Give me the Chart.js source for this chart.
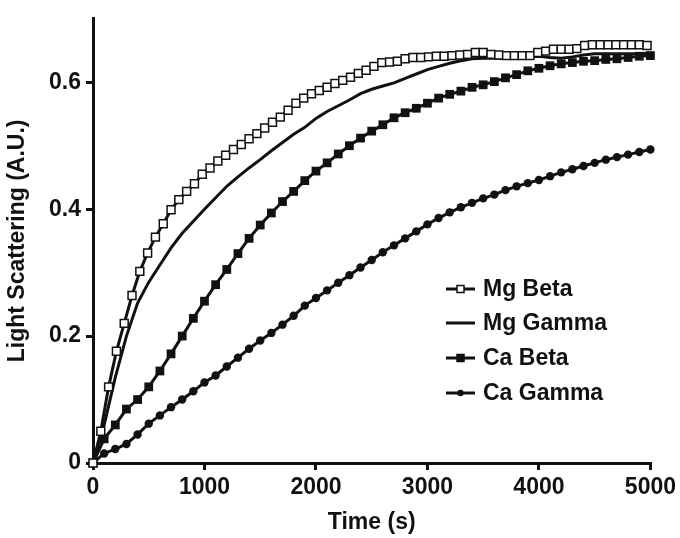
<!DOCTYPE html>
<html>
<head>
<meta charset="utf-8">
<script src="https://cdn.jsdelivr.net/npm/chart.js@4.4.1/dist/chart.umd.min.js"></script>
<style>
  body { margin: 0; background: #fff; }
  canvas { display: block; }
</style>
</head>
<body>
<canvas id="scatterChart" width="680" height="538"></canvas>
<script>
// Time points (s)
const timeMgBeta = [
  0, 70, 140, 210, 280, 350, 420, 490, 560, 630,
  700, 770, 840, 910, 980, 1050, 1120, 1190, 1260, 1330,
  1400, 1470, 1540, 1610, 1680, 1750, 1820, 1890, 1960, 2030,
  2100, 2170, 2240, 2310, 2380, 2450, 2520, 2590, 2660, 2730,
  2800, 2870, 2940, 3010, 3080, 3150, 3220, 3290, 3360, 3430,
  3500, 3570, 3640, 3710, 3780, 3850, 3920, 3990, 4060, 4130,
  4200, 4270, 4340, 4410, 4480, 4550, 4620, 4690, 4760, 4830,
  4900, 4970,
];
const timeOther = [
  0, 100, 200, 300, 400, 500, 600, 700, 800, 900,
  1000, 1100, 1200, 1300, 1400, 1500, 1600, 1700, 1800, 1900,
  2000, 2100, 2200, 2300, 2400, 2500, 2600, 2700, 2800, 2900,
  3000, 3100, 3200, 3300, 3400, 3500, 3600, 3700, 3800, 3900,
  4000, 4100, 4200, 4300, 4400, 4500, 4600, 4700, 4800, 4900,
  5000,
];

// Light scattering (A.U.)
const mgBeta = [
  0, 0.05, 0.12, 0.176, 0.22, 0.264, 0.302, 0.331, 0.356, 0.377,
  0.399, 0.415, 0.428, 0.44, 0.455, 0.465, 0.476, 0.485, 0.494, 0.502,
  0.511, 0.519, 0.528, 0.537, 0.545, 0.556, 0.567, 0.575, 0.582, 0.587,
  0.592, 0.598, 0.603, 0.608, 0.614, 0.619, 0.625, 0.631, 0.632, 0.633,
  0.637, 0.639, 0.639, 0.64, 0.641, 0.641, 0.642, 0.643, 0.644, 0.647,
  0.647, 0.644, 0.643, 0.642, 0.642, 0.642, 0.642, 0.647, 0.649, 0.652,
  0.652, 0.652, 0.653, 0.658, 0.659, 0.659, 0.659, 0.659, 0.659, 0.659,
  0.659, 0.658,
];
const mgGamma = [
  0, 0.06, 0.135, 0.2, 0.252, 0.285, 0.312, 0.339, 0.362, 0.381,
  0.4, 0.418, 0.436, 0.451, 0.465, 0.478, 0.492, 0.505, 0.518, 0.529,
  0.543, 0.554, 0.563, 0.572, 0.582, 0.589, 0.594, 0.599, 0.606, 0.613,
  0.62, 0.625, 0.63, 0.634, 0.637, 0.638, 0.638, 0.638, 0.639, 0.64,
  0.641, 0.639, 0.638, 0.64, 0.643, 0.645, 0.645, 0.645, 0.645, 0.645,
  0.646,
];
const caBeta = [
  0, 0.038, 0.06, 0.085, 0.1, 0.12, 0.145, 0.172, 0.2, 0.228,
  0.255, 0.281, 0.305, 0.33, 0.354, 0.375, 0.394, 0.412, 0.428, 0.445,
  0.46, 0.473, 0.487, 0.5, 0.512, 0.523, 0.533, 0.544, 0.552, 0.559,
  0.567, 0.575, 0.581, 0.586, 0.592, 0.596, 0.601, 0.607, 0.612, 0.618,
  0.622, 0.626, 0.629, 0.631, 0.633, 0.634, 0.636, 0.637, 0.639, 0.641,
  0.642,
];
const caGamma = [
  0, 0.015, 0.022, 0.03, 0.045, 0.062, 0.075, 0.088, 0.1, 0.113,
  0.127, 0.138, 0.152, 0.166, 0.18, 0.193, 0.205, 0.218, 0.232, 0.248,
  0.26, 0.272, 0.284, 0.296, 0.308, 0.32, 0.332, 0.343, 0.354, 0.365,
  0.376, 0.386, 0.395, 0.403, 0.41, 0.417, 0.423, 0.43, 0.436, 0.441,
  0.446, 0.452, 0.458, 0.463, 0.468, 0.473, 0.478, 0.482, 0.486, 0.49,
  0.494,
];

const seriesNames = ["Mg Beta", "Mg Gamma", "Ca Beta", "Ca Gamma"];
const yTicks = [0, 0.2, 0.4, 0.6];

const ink = "#111";
const fontFamily = "'Liberation Sans', Arial, sans-serif";

function toPoints(times, values) {
  return values.map((v, i) => ({ x: times[i], y: v }));
}

// Legend drawn inside the plot, lower right
const insideLegend = {
  id: "insideLegend",
  afterDraw(chart) {
    const ctx = chart.ctx;
    const x0 = 446, x1 = 475, textX = 483;
    const rowY = [289, 323, 358, 393];
    ctx.save();
    chart.data.datasets.forEach((ds, i) => {
      const y = rowY[i];
      const mx = (x0 + x1) / 2;
      ctx.strokeStyle = ink;
      ctx.lineWidth = 3;
      ctx.beginPath();
      ctx.moveTo(x0, y);
      ctx.lineTo(x1, y);
      ctx.stroke();
      if (ds.pointStyle === "rect" && ds.pointRadius > 0) {
        ctx.fillStyle = ds.pointBackgroundColor;
        ctx.lineWidth = 1.5;
        ctx.beginPath();
        ctx.rect(mx - 3.5, y - 3.5, 7, 7);
        ctx.fill();
        ctx.stroke();
      } else if (ds.pointStyle === "circle" && ds.pointRadius > 0) {
        ctx.fillStyle = ink;
        ctx.beginPath();
        ctx.arc(mx, y, 3.2, 0, Math.PI * 2);
        ctx.fill();
      }
      ctx.fillStyle = ink;
      ctx.font = "bold 23px " + fontFamily;
      ctx.textBaseline = "middle";
      ctx.textAlign = "left";
      ctx.fillText(ds.label, textX, y + 1);
    });
    ctx.restore();
  },
};

document.addEventListener("DOMContentLoaded", () => {
  const ctx = document.getElementById("scatterChart").getContext("2d");

  new Chart(ctx, {
    type: "line",
    data: {
      datasets: [
        {
          label: seriesNames[0],
          data: toPoints(timeMgBeta, mgBeta),
          borderColor: ink,
          borderWidth: 3,
          pointStyle: "rect",
          pointRadius: 5.6,
          pointBorderWidth: 1.5,
          pointBorderColor: ink,
          pointBackgroundColor: "#fff",
        },
        {
          label: seriesNames[1],
          data: toPoints(timeOther, mgGamma),
          borderColor: ink,
          borderWidth: 3,
          pointRadius: 0,
        },
        {
          label: seriesNames[2],
          data: toPoints(timeOther, caBeta),
          borderColor: ink,
          borderWidth: 3,
          pointStyle: "rect",
          pointRadius: 6.2,
          pointBorderWidth: 0,
          pointBackgroundColor: ink,
        },
        {
          label: seriesNames[3],
          data: toPoints(timeOther, caGamma),
          borderColor: ink,
          borderWidth: 3,
          pointStyle: "circle",
          pointRadius: 4.2,
          pointBorderWidth: 0,
          pointBackgroundColor: ink,
        },
      ],
    },
    options: {
      responsive: false,
      animation: false,
      clip: false,
      layout: { padding: { left: 0, right: 28, top: 15, bottom: 0 } },
      elements: { line: { tension: 0, fill: false } },
      scales: {
        x: {
          type: "linear",
          min: 0,
          max: 5000,
          afterFit: (scale) => { scale.height = 75; },
          ticks: {
            stepSize: 1000,
            color: ink,
            padding: 4,
            maxRotation: 0,
            callback: (v) => String(v),
            font: { family: fontFamily, size: 23, weight: "bold" },
          },
          grid: {
            drawOnChartArea: false,
            drawTicks: true,
            tickLength: 7,
            color: ink,
            lineWidth: 3,
          },
          border: { display: true, color: ink, width: 3 },
          title: {
            display: true,
            text: "Time (s)",
            color: ink,
            padding: { top: 0, bottom: 2 },
            font: { family: fontFamily, size: 23, weight: "bold" },
          },
        },
        y: {
          min: 0,
          max: 0.7,
          afterFit: (scale) => { scale.width = 93; },
          afterBuildTicks: (scale) => {
            scale.ticks = yTicks.map((v) => ({ value: v }));
          },
          ticks: {
            color: ink,
            padding: 5,
            callback: (v) => String(v),
            font: { family: fontFamily, size: 23, weight: "bold" },
          },
          grid: {
            drawOnChartArea: false,
            drawTicks: true,
            tickLength: 7,
            color: ink,
            lineWidth: 3,
          },
          border: { display: true, color: ink, width: 3 },
          title: {
            display: true,
            text: "Light Scattering (A.U.)",
            color: ink,
            padding: { top: 4, bottom: 0 },
            font: { family: fontFamily, size: 23, weight: "bold" },
          },
        },
      },
      plugins: {
        legend: { display: false },
        tooltip: { enabled: false },
      },
    },
    plugins: [insideLegend],
  });
});
</script>
</body>
</html>
